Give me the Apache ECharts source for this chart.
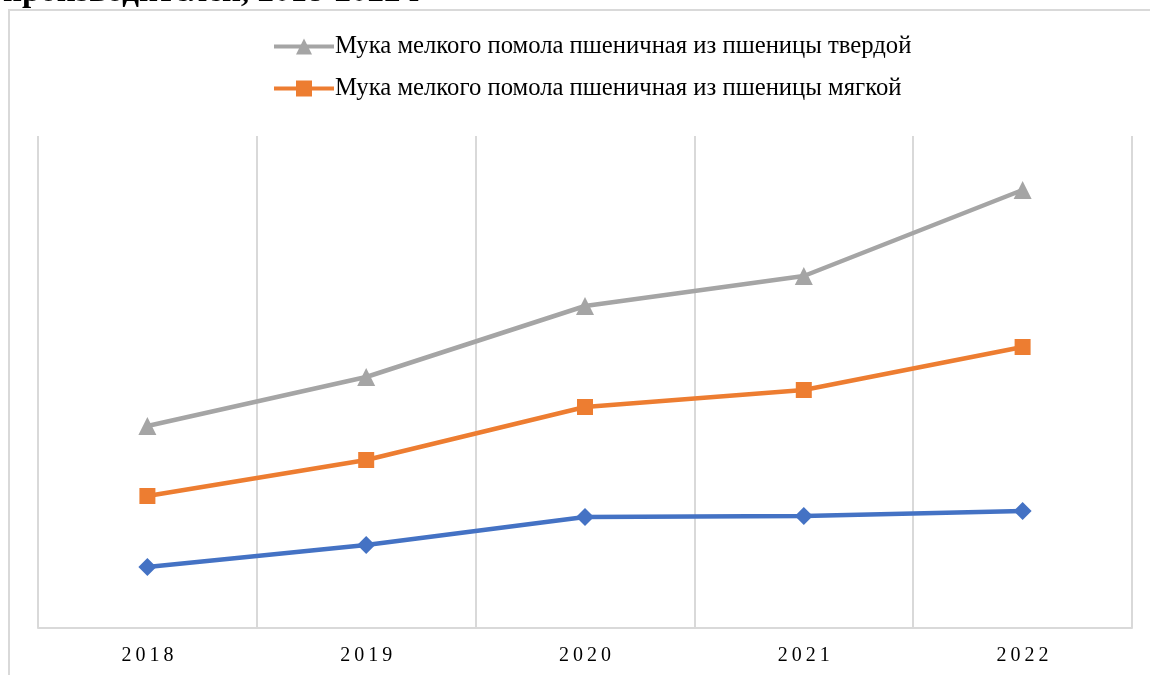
<!DOCTYPE html>
<html>
<head>
<meta charset="utf-8">
<script src="https://cdn.jsdelivr.net/npm/echarts@6/dist/echarts.min.js"></script>
<style>
  html, body { margin: 0; padding: 0; background: #fff; }
  #chart { width: 1150px; height: 675px; }
</style>
</head>
<body>
<div id="chart"></div>
<script>
var years = ["2018", "2019", "2020", "2021", "2022"];
var tverdoy = [202, 251, 322, 352, 438];
var myagkoy = [132, 168, 221, 238, 281];
var third = [61, 83, 111, 112, 117];

var nameTverdoy = "Мука мелкого помола пшеничная из пшеницы твердой";
var nameMyagkoy = "Мука мелкого помола пшеничная из пшеницы мягкой";

var chart = echarts.init(document.getElementById("chart"));
chart.setOption({
  animation: false,
  textStyle: { fontFamily: "Liberation Serif" },
  title: {
    text: "производителей, 2018-2022 г",
    left: -2,
    top: -29,
    textStyle: { fontFamily: "Liberation Serif", fontSize: 33, fontWeight: "bold", color: "#000" }
  },
  graphic: [{
    type: "rect",
    shape: { x: 9, y: 10, width: 1200, height: 700 },
    style: { fill: "none", stroke: "#d9d9d9", lineWidth: 2 },
    silent: true
  }],
  legend: {
    orient: "vertical",
    left: 267,
    top: 29,
    itemGap: 17,
    itemWidth: 60,
    itemHeight: 20,
    data: [
      { name: nameTverdoy, lineStyle: { width: 4 } },
      { name: nameMyagkoy, lineStyle: { width: 4 } }
    ],
    textStyle: { fontFamily: "Liberation Serif", fontSize: 24.7, color: "#000", padding: [0, 0, 0, -4] }
  },
  grid: { left: 38, right: 18, top: 136, bottom: 47 },
  xAxis: {
    type: "category",
    data: years,
    boundaryGap: true,
    axisLine: { lineStyle: { color: "#d9d9d9", width: 2 } },
    axisTick: { show: false },
    axisLabel: {
      color: "#000",
      fontSize: 20,
      margin: 18,
      formatter: function (v) { return v.split("").join("\u2009"); }
    },
    splitLine: { show: true, lineStyle: { color: "#d9d9d9", width: 2 } }
  },
  yAxis: {
    type: "value",
    min: 0,
    max: 492,
    show: false
  },
  series: [
    {
      name: nameTverdoy,
      type: "line",
      data: tverdoy,
      symbol: "triangle",
      symbolSize: 18,
      lineStyle: { color: "#a5a5a5", width: 4.5 },
      itemStyle: { color: "#a5a5a5" }
    },
    {
      name: nameMyagkoy,
      type: "line",
      data: myagkoy,
      symbol: "rect",
      symbolSize: 16,
      lineStyle: { color: "#ed7d31", width: 4.5 },
      itemStyle: { color: "#ed7d31" }
    },
    {
      name: "Мука",
      type: "line",
      data: third,
      symbol: "diamond",
      symbolSize: 18,
      lineStyle: { color: "#4472c4", width: 4.5 },
      itemStyle: { color: "#4472c4" }
    }
  ]
});
</script>
</body>
</html>
